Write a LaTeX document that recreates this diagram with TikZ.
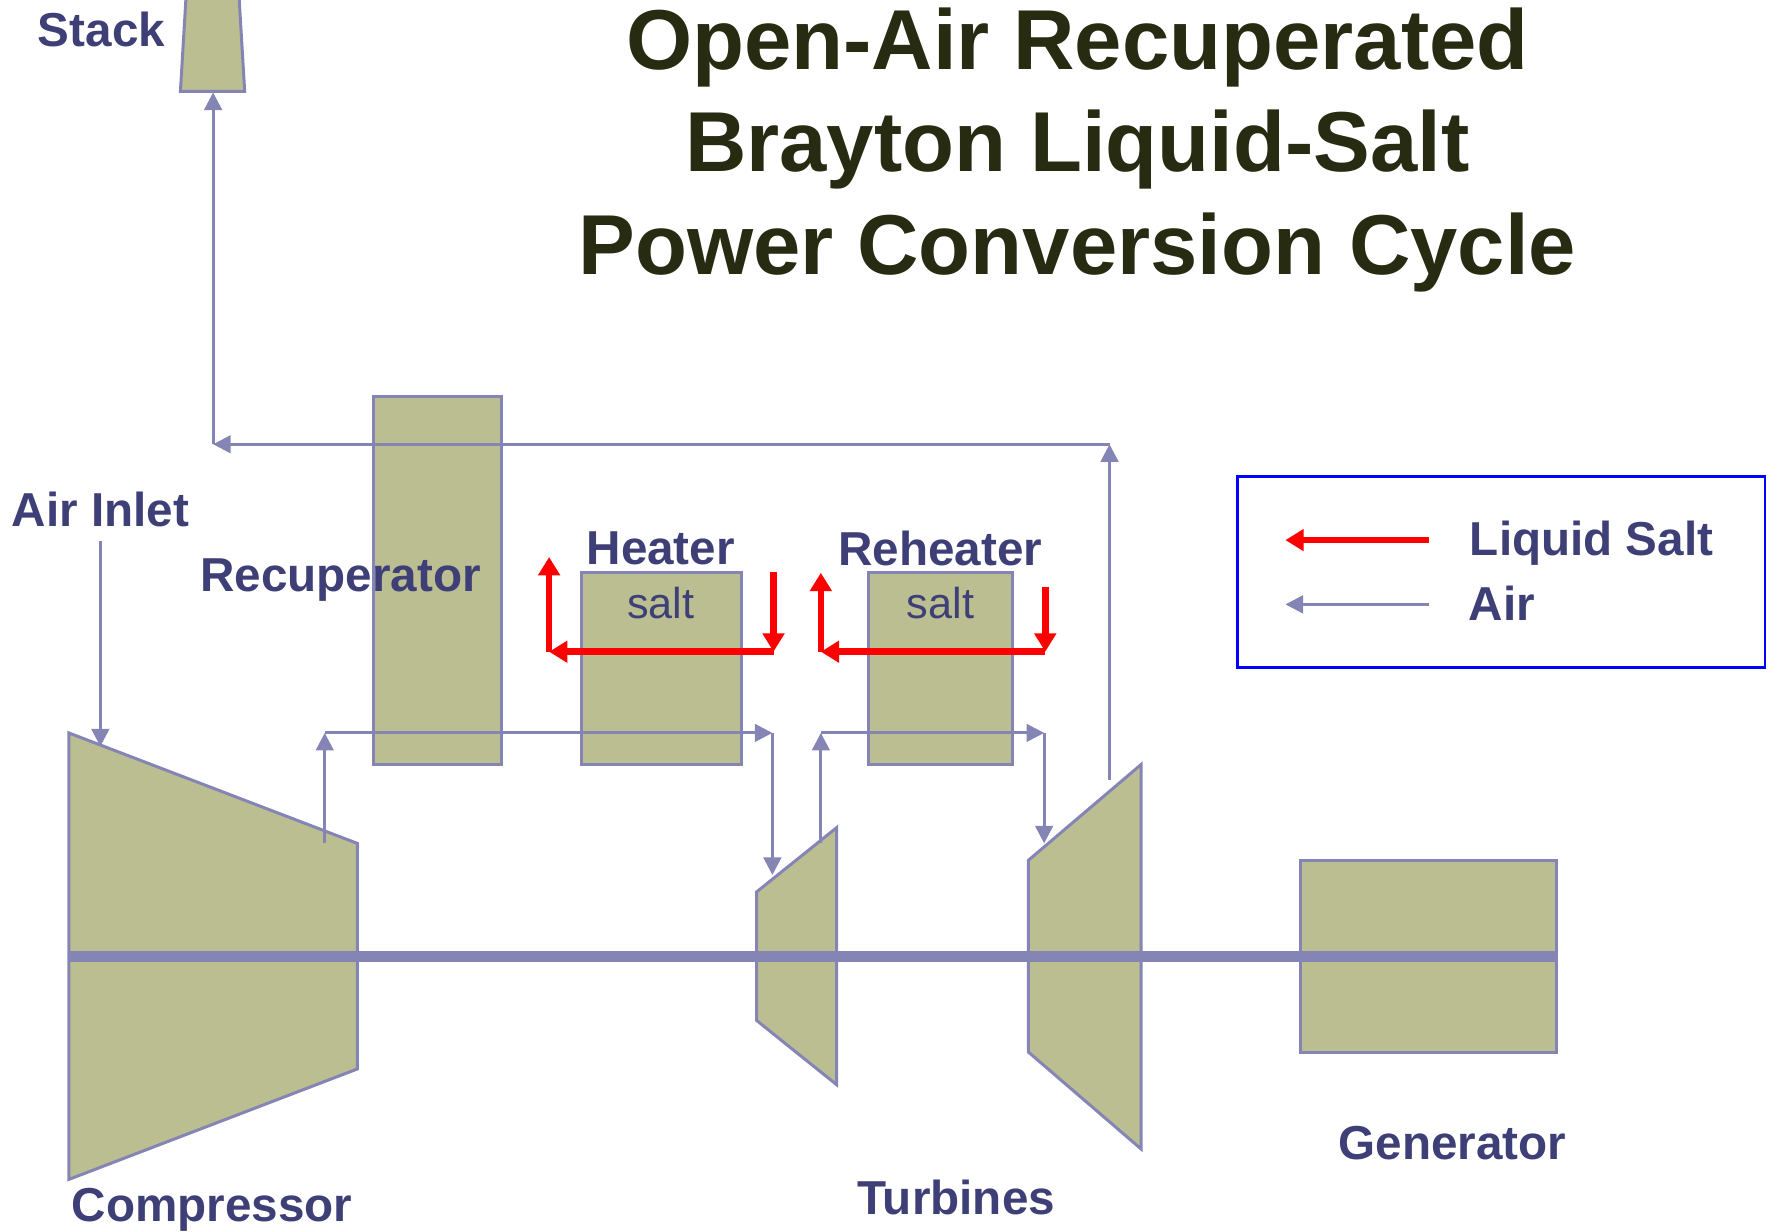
\documentclass[tikz,border=0pt]{standalone}
\usepackage{fontspec}
\setmainfont{Liberation Sans}
\usetikzlibrary{positioning,arrows.meta}
\definecolor{cyBack}{HTML}{BBBE90}
\definecolor{cyFrame}{HTML}{8585B5}
\definecolor{cyLabel}{HTML}{3F3F77}
\definecolor{cyTitle}{HTML}{272B12}
\begin{document}
\begin{tikzpicture}[x=0.011276cm,y=-0.011276cm,
unit/.style={draw=cyFrame,fill=cyBack,line width=0.85pt},
tag/.style={font=\fontsize{13.55pt}{16pt}\selectfont\bfseries,text=cyLabel,inner sep=0pt},
salttag/.style={font=\fontsize{12.3pt}{15pt}\selectfont,text=cyLabel,inner sep=0pt},
air/.style={draw=cyFrame,line width=0.85pt,-{Triangle[length=5pt,width=5pt]}},
salt/.style={draw=red,line width=1.9pt,-{Triangle[length=5.2pt,width=6pt]}}]
\useasboundingbox (0,0) rectangle (1568,1092.6);
% machines
\draw[unit] (165,-3)--(212,-3)--(217,81)--(160,81)--cycle;
\coordinate (stackin) at (189,82);
\node[unit,minimum width=113*0.011276cm,minimum height=327*0.011276cm,anchor=north west,inner sep=0pt] (recup) at (330,350) {};
\node[unit,minimum width=142*0.011276cm,minimum height=171*0.011276cm,anchor=north west,inner sep=0pt] (heater) at (514,506) {};
\node[unit,minimum width=128*0.011276cm,minimum height=171*0.011276cm,anchor=north west,inner sep=0pt] (reheater) at (769,506) {};
\draw[unit] (61,650)--(317,748)--(317,948)--(61,1046)--cycle;
\draw[unit] (671,791)--(742,734)--(742,962)--(671,905)--cycle;
\draw[unit] (912,763)--(1012,678)--(1012,1019)--(912,933)--cycle;
\node[unit,minimum width=227*0.011276cm,minimum height=170*0.011276cm,anchor=north west,inner sep=0pt] (gen) at (1152,762) {};
% shaft
\coordinate (shaftl) at (61,848);
\coordinate (shaftr) at (1381,848);
\draw[cyFrame,line width=3.1pt] (shaftl)--(shaftr);
% air path
\coordinate (inlet) at (89,480);
\coordinate (compin) at (89,662);
\coordinate (compout) at (288,748);
\coordinate (recupin) at (288,650);
\coordinate (turbain) at (685,650);
\coordinate (turbaend) at (685,776);
\coordinate (turbaout) at (728,748);
\coordinate (reheatin) at (728,650);
\coordinate (turbbin) at (926,650);
\coordinate (turbbend) at (926,748);
\coordinate (turbbout) at (984,692);
\coordinate (exhaust) at (984,394);
\coordinate (stackfoot) at (189,394);
\draw[air] (inlet)--(compin);
\draw[air] (compout)--(recupin);\draw[air] (recupin)--(turbain);\draw[air] (turbain)--(turbaend);
\draw[air] (turbaout)--(reheatin);\draw[air] (reheatin)--(turbbin);\draw[air] (turbbin)--(turbbend);
\draw[air] (turbbout)--(exhaust);\draw[air] (exhaust)--(stackfoot);\draw[air] (stackfoot)--(stackin);
% salt loops
\coordinate (ha) at (686,507);
\coordinate (hb) at (686,578);
\coordinate (hc) at (487,578);
\coordinate (hd) at (487,494);
\coordinate (ra) at (927,521);
\coordinate (rb) at (927,578);
\coordinate (rc) at (728,578);
\coordinate (rd) at (728,508);
\draw[salt] (ha)--(hb);\draw[salt] (hb)--(hc);\draw[salt] (hc)--(hd);
\draw[salt] (ra)--(rb);\draw[salt] (rb)--(rc);\draw[salt] (rc)--(rd);
% legend
\node[draw=blue,line width=0.8pt,minimum width=468*0.011276cm,minimum height=170*0.011276cm,anchor=north west,inner sep=0pt] (legend) at (1096,421) {};
\coordinate (lsr) at (1267,479);
\coordinate (lsl) at (1140,479);
\coordinate (lar) at (1267,536);
\coordinate (lal) at (1140,536);
\draw[salt] (lsr)--(lsl);
\draw[air] (lar)--(lal);
\node[tag,anchor=west] (lsalt) at (1303,482) {Liquid Salt};
\node[tag,anchor=west] (lair) at (1302,535) {Air};
% labels
\node[font=\fontsize{24.2pt}{29.1pt}\selectfont\bfseries,text=cyTitle,align=center,inner sep=0pt] (title) at (955.5,133) {Open-Air Recuperated\\Brayton Liquid-Salt\\Power Conversion Cycle};
\node[tag] (stack) at (90,26) {Stack};
\node[tag] (airinlet) at (89,452) {Air Inlet};
\node[tag] (recuplab) at (302,514) {Recuperator};
\node[tag] (heatlab) at (586,486) {Heater};
\node[tag] (reheatlab) at (834,486) {Reheater};
\node[salttag] (salta) at (586,535) {salt};
\node[salttag] (saltb) at (834,535) {salt};
\node[tag] (comp) at (188,1073) {Compressor};
\node[tag] (turb) at (848,1062) {Turbines};
\node[tag] (genlab) at (1288,1014) {Generator};
\end{tikzpicture}
\end{document}
